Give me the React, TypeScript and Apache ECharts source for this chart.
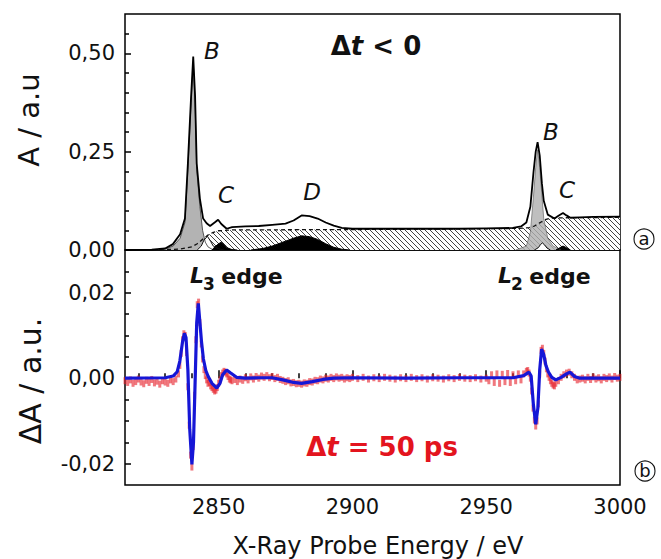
import React, { useEffect, useRef } from 'react';
import * as echarts from 'echarts';

// ---------- Top panel (A / a.u.) ----------
const totalX = [2815, 2825, 2830, 2832.9, 2835.6, 2837.4, 2838.5, 2839.7, 2840.5, 2841.2, 2841.8, 2843, 2844.2, 2845.5, 2846.8, 2848.5, 2849.8, 2851, 2853, 2855, 2860, 2865, 2870, 2875, 2878, 2881, 2884, 2887, 2890, 2893, 2896, 2900, 2910, 2920, 2930, 2940, 2950, 2960, 2963, 2965, 2966.5, 2967.7, 2968.5, 2969.2, 2970, 2970.8, 2971.5, 2973, 2975.5, 2977, 2978.7, 2980, 2981.5, 2985, 2990, 3000];
const totalY = [0, 0.001, 0.004, 0.015, 0.04, 0.08, 0.22, 0.39, 0.492, 0.39, 0.22, 0.13, 0.08, 0.068, 0.061, 0.07, 0.077, 0.066, 0.054, 0.058, 0.06, 0.061, 0.064, 0.067, 0.075, 0.088, 0.086, 0.08, 0.07, 0.062, 0.056, 0.054, 0.054, 0.054, 0.054, 0.054, 0.055, 0.056, 0.06, 0.07, 0.11, 0.2, 0.25, 0.274, 0.24, 0.17, 0.125, 0.09, 0.08, 0.087, 0.094, 0.088, 0.082, 0.083, 0.084, 0.085];

const stepX = [2815, 2835, 2840, 2842, 2844, 2846, 2848, 2850, 2855, 2900, 2950, 2962, 2966, 2968, 2970, 2972, 2974, 2980, 3000];
const stepY = [0, 0.002, 0.008, 0.016, 0.027, 0.038, 0.045, 0.049, 0.051, 0.052, 0.054, 0.055, 0.057, 0.061, 0.069, 0.077, 0.081, 0.082, 0.083];

const greyB1X = [2829, 2833, 2835.6, 2837.4, 2838.5, 2839.7, 2840.5, 2841.2, 2841.8, 2843, 2844, 2845, 2846, 2848];
const greyB1Y = [0, 0.01, 0.03, 0.07, 0.205, 0.375, 0.478, 0.375, 0.205, 0.11, 0.05, 0.02, 0.008, 0];
const greyB2X = [2961, 2965, 2966.5, 2967.7, 2968.5, 2969.2, 2970, 2970.8, 2971.5, 2973, 2975, 2978];
const greyB2Y = [0, 0.01, 0.045, 0.14, 0.21, 0.255, 0.21, 0.14, 0.08, 0.03, 0.01, 0];

const whiteP1X = [2842, 2843.5, 2844.5, 2845.8, 2847, 2848, 2850, 2852];
const whiteP1Y = [0, 0.01, 0.025, 0.035, 0.022, 0.01, 0.003, 0];
const whiteP2X = [2968, 2969.5, 2970.3, 2971, 2971.8, 2972.7, 2974];
const whiteP2Y = [0, 0.006, 0.014, 0.018, 0.013, 0.005, 0];

const blackC1X = [2847.5, 2848.6, 2850, 2851, 2852, 2853, 2855, 2857];
const blackC1Y = [0, 0.008, 0.016, 0.02, 0.014, 0.006, 0.001, 0];
const blackDX = [2862, 2866.6, 2870, 2874, 2878, 2881, 2884, 2887, 2890, 2893, 2896, 2899];
const blackDY = [0, 0.004, 0.01, 0.02, 0.03, 0.036, 0.034, 0.027, 0.016, 0.007, 0.002, 0];
const blackC2X = [2976, 2977.3, 2978.7, 2980, 2981.5];
const blackC2Y = [0, 0.005, 0.01, 0.006, 0];

// ---------- Bottom panel (ΔA / a.u.) ----------
const dataX = [2815, 2816, 2817, 2818, 2819, 2820, 2821, 2822, 2823, 2824, 2825, 2826, 2827, 2828, 2829, 2830, 2831, 2832, 2833, 2834, 2835,
  2835.5, 2836, 2836.5, 2837, 2837.5, 2838, 2838.5, 2839, 2839.5, 2840, 2840.5, 2841, 2841.5, 2842, 2842.5, 2843, 2843.5, 2844, 2844.5, 2845,
  2845.5, 2846, 2846.5, 2847, 2847.5, 2848, 2848.5, 2849, 2849.5, 2850, 2850.5, 2851, 2851.5, 2852, 2852.5, 2853, 2853.5, 2854, 2854.5, 2855,
  2856, 2857, 2858, 2859, 2860, 2861, 2862, 2863, 2864, 2865, 2866, 2867, 2868, 2869, 2870, 2871, 2872, 2873, 2874, 2875, 2876, 2877, 2878, 2879,
  2880, 2881, 2882, 2883, 2884, 2885, 2886, 2887, 2888, 2889, 2890, 2891, 2892, 2893, 2894, 2895, 2896, 2897, 2898, 2899, 2900,
  2902, 2904, 2906, 2908, 2910, 2912, 2914, 2916, 2918, 2920, 2922, 2924, 2926, 2928, 2930, 2932, 2934, 2936, 2938, 2940, 2942, 2944, 2946, 2948, 2950,
  2951, 2952, 2953, 2954, 2955, 2956, 2957, 2958, 2959, 2960, 2961, 2962, 2963, 2964, 2965, 2965.5, 2966, 2966.5, 2967, 2967.5, 2968, 2968.5, 2969,
  2969.5, 2970, 2970.5, 2971, 2971.5, 2972, 2972.5, 2973, 2973.5, 2974, 2974.5, 2975, 2975.5, 2976, 2977, 2978, 2979, 2980, 2981, 2982, 2983, 2984,
  2985, 2986, 2987, 2988, 2989, 2990, 2991, 2992, 2993, 2994, 2995, 2996, 2997, 2998, 2999, 3000];
const dataY = [-0.0006, -0.001, -0.0004, -0.0012, -0.0008, -0.0002, -0.0009, -0.0013, -0.0005, -0.001, -0.0003, -0.0011, -0.0007, -0.0014, -0.0006, -0.0009, -0.0012, -0.0004, -0.0008, -0.0002, 0.001,
  0.003, 0.0058, 0.009, 0.0104, 0.01, 0.006, -0.002, -0.011, -0.018, -0.0208, -0.016, -0.004, 0.009, 0.0172, 0.0178, 0.013, 0.008, 0.0045, 0.002, 0.0006,
  -0.0004, -0.0012, -0.001, -0.0018, -0.0022, -0.0026, -0.003, -0.0028, -0.0022, -0.0012, -0.0004, 0.0006, 0.0012, 0.0016, 0.0014, 0.001, 0.0004, -0.0002, -0.0004, -0.0006,
  -0.0003, -0.0008, -0.0002, -0.0005, 0.0001, -0.0004, 0.0003, -0.0002, 0.0004, 0, 0.0005, 0.0002, 0.0006, 0.0001, 0.0004, -0.0001, 0.0002, -0.0003, -0.0005, -0.0008, -0.0006, -0.0011, -0.001, -0.0013,
  -0.0012, -0.0014, -0.0011, -0.0012, -0.0008, -0.0009, -0.0005, -0.0006, -0.0002, -0.0004, 0, -0.0002, 0.0002, -0.0001, 0.0003, 0, 0.0002, -0.0002, 0.0001, -0.0001, 0.0002,
  -0.0001, 0.0002, -0.0002, 0.0001, -0.0001, 0.0002, 0, -0.0002, 0.0001, -0.0001, 0.0002, -0.0001, 0.0001, -0.0002, 0.0001, 0, -0.0002, 0.0001, -0.0001, 0.0002, 0, -0.0001, 0.0001, -0.0002, 0,
  -0.0006, 0.0008, -0.001, 0.001, -0.0012, 0.0009, -0.0008, 0.0011, -0.001, 0.0008, -0.0006, 0.001, -0.0004, 0.001, 0.0016, 0.0018, 0.0012, 0, -0.003, -0.007, -0.0098, -0.0112, -0.01,
  -0.006, 0.001, 0.0065, 0.007, 0.0058, 0.004, 0.0022, 0.001, 0.0002, -0.0006, -0.0012, -0.0016, -0.0018, -0.0012, -0.0006, 0.0002, 0.0008, 0.0012, 0.0014, 0.0008, 0.0002, -0.0004,
  -0.0002, 0, -0.0004, 0.0002, -0.0003, 0.0003, -0.0002, 0.0001, -0.0004, 0.0002, -0.0001, 0.0003, -0.0002, 0.0004, 0, 0.0002];

const fitX = [2815, 2830, 2833, 2834.5, 2835.5, 2836.5, 2837.2, 2837.8, 2838.5, 2839.2, 2840, 2840.6, 2841.2, 2841.8, 2842.4, 2843, 2843.6, 2844.3, 2845.2, 2846.1, 2847.5, 2849.3, 2850.5, 2851.5, 2853, 2854.5, 2856.7, 2860, 2865, 2870, 2874, 2878, 2881, 2885, 2889, 2893, 2900, 2920, 2940, 2960, 2964, 2966, 2966.8, 2967.6, 2968.5, 2969.3, 2970, 2970.7, 2971.5, 2972.3, 2973.2, 2974.5, 2976, 2978, 2980, 2981.3, 2983, 2985, 3000];
const fitY = [0, 0.0001, 0.0005, 0.0015, 0.004, 0.0085, 0.0105, 0.0095, 0.002, -0.012, -0.0202, -0.015, -0.001, 0.013, 0.0175, 0.013, 0.0085, 0.0045, 0.0018, 0.0004, -0.0012, -0.0023, -0.0012, 0.0008, 0.0019, 0.0012, 0.0002, 0, 0.0001, 0.0001, -0.0004, -0.001, -0.0012, -0.0008, -0.0003, 0, 0.0001, 0, 0.0001, 0.0001, 0.0006, 0.0014, 0.0005, -0.006, -0.0108, -0.007, 0.002, 0.0068, 0.0055, 0.003, 0.0015, 0.0002, -0.0004, 0.0002, 0.001, 0.0014, 0.0004, 0, 0];

// ---------- Axis ticks ----------
const xMajorTicks = [2850, 2900, 2950, 3000];
const xMinorTicks = [2820, 2830, 2840, 2860, 2870, 2880, 2890, 2910, 2920, 2930, 2940, 2960, 2970, 2980, 2990];
const yTopMajor = [0, 0.25, 0.5];
const yTopMinor = [0.05, 0.1, 0.15, 0.2, 0.3, 0.35, 0.4, 0.45, 0.55];
const yBotMajor = [-0.02, 0, 0.02];
const yBotMinor = [-0.015, -0.01, -0.005, 0.005, 0.01, 0.015, 0.025];

const zip = (xs: number[], ys: number[]) => xs.map((x, i) => [x, ys[i]]);
const FONT = 'DejaVu Sans';
const comma = (v: number) => v.toFixed(2).replace('.', ',');

export default function App() {
  const ref = useRef<HTMLDivElement>(null);
  useEffect(() => {
    const chart = echarts.init(ref.current!, null, { renderer: 'svg' });

    const c = document.createElement('canvas');
    c.width = 5; c.height = 5;
    const ctx = c.getContext('2d')!;
    ctx.fillStyle = '#ffffff';
    ctx.fillRect(0, 0, 5, 5);
    ctx.strokeStyle = '#444444';
    ctx.lineWidth = 1;
    ctx.beginPath();
    ctx.moveTo(-1, -1); ctx.lineTo(6, 6);
    ctx.moveTo(-3.5, 1.5); ctx.lineTo(1.5, 6.5);
    ctx.moveTo(1.5, -3.5); ctx.lineTo(6.5, 1.5);
    ctx.stroke();
    const hatch = { image: c, repeat: 'repeat' };

    const peak = (name: string, xs: number[], ys: number[], fill: any, stroke: string, lw: number) => ({
      name, type: 'line', xAxisIndex: 0, yAxisIndex: 0, data: zip(xs, ys), symbol: 'none', showSymbol: false,
      lineStyle: { color: stroke, width: lw }, areaStyle: { color: fill, opacity: 1 }, silent: true,
    });

    const tickAxisX = (gridIndex: number, values: number[], len: number, labels: boolean) => ({
      type: 'value', gridIndex, min: 2815, max: 3000, position: 'bottom',
      axisLine: { show: false }, splitLine: { show: false },
      axisTick: { show: true, inside: true, length: len, customValues: values, lineStyle: { color: '#000', width: 1.5 } },
      axisLabel: labels
        ? { show: true, customValues: values, fontFamily: FONT, fontSize: 21, color: '#111', margin: 11, formatter: (v: number) => String(Math.round(v)) }
        : { show: false },
    });
    const tickAxisY = (gridIndex: number, min: number, max: number, values: number[], len: number, labels: boolean) => ({
      type: 'value', gridIndex, min, max, position: 'left',
      axisLine: { show: false }, splitLine: { show: false },
      axisTick: { show: true, inside: true, length: len, customValues: values, lineStyle: { color: '#000', width: 1.5 } },
      axisLabel: labels
        ? { show: true, customValues: values, fontFamily: FONT, fontSize: 21, color: '#111', margin: 10, formatter: (v: number) => comma(v) }
        : { show: false },
    });

    const txt = (text: string, x: number, y: number, size: number, extra: any = {}) => ({
      type: 'text', x, y, silent: true,
      style: { text, fontFamily: FONT, fontSize: size, fill: '#111', align: 'center', verticalAlign: 'middle', ...extra },
    });

    chart.setOption({
      animation: false,
      backgroundColor: '#ffffff',
      grid: [
        { left: 125, width: 495, top: 14, height: 236, show: true, borderColor: '#000', borderWidth: 1.5, backgroundColor: 'transparent' },
        { left: 125, width: 495, top: 250, height: 235, show: true, borderColor: '#000', borderWidth: 1.5, backgroundColor: 'transparent' },
      ],
      xAxis: [
        { type: 'value', gridIndex: 0, min: 2815, max: 3000, show: false, splitLine: { show: false } },
        tickAxisX(1, xMajorTicks, 8, true),
        tickAxisX(1, xMinorTicks, 5, false),
      ],
      yAxis: [
        tickAxisY(0, 0, 0.6, yTopMajor, 6, true),
        tickAxisY(0, 0, 0.6, yTopMinor, 4, false),
        tickAxisY(1, -0.025, 0.03, yBotMajor, 6, true),
        tickAxisY(1, -0.025, 0.03, yBotMinor, 4, false),
      ],
      series: [
        {
          name: 'step', type: 'line', xAxisIndex: 0, yAxisIndex: 0, data: zip(stepX, stepY), symbol: 'none',
          lineStyle: { color: '#111', width: 1.3, type: [4, 3] }, areaStyle: { color: hatch, opacity: 1 }, silent: true,
        },
        peak('greyB1', greyB1X, greyB1Y, '#b3b3b3', '#333', 0.8),
        peak('greyB2', greyB2X, greyB2Y, 'rgba(175,175,175,0.8)', '#555', 0.6),
        peak('whiteP1', whiteP1X, whiteP1Y, '#ffffff', '#111', 1),
        peak('whiteP2', whiteP2X, whiteP2Y, '#ffffff', '#111', 1),
        peak('blackC1', blackC1X, blackC1Y, '#000000', '#000', 1),
        peak('blackD', blackDX, blackDY, '#000000', '#000', 1),
        peak('blackC2', blackC2X, blackC2Y, '#000000', '#000', 1),
        {
          name: 'total', type: 'line', xAxisIndex: 0, yAxisIndex: 0, data: zip(totalX, totalY), symbol: 'none',
          lineStyle: { color: '#000', width: 1.8 }, silent: true,
        },
        {
          name: 'data', type: 'scatter', xAxisIndex: 1, yAxisIndex: 2, data: zip(dataX, dataY),
          symbol: 'rect', symbolSize: [3, 7], itemStyle: { color: 'rgba(230,30,40,0.75)' }, silent: true,
        },
        {
          name: 'fit', type: 'line', xAxisIndex: 1, yAxisIndex: 2, data: zip(fitX, fitY), symbol: 'none',
          lineStyle: { color: '#1616d6', width: 3.2 }, silent: true,
        },
      ],
      graphic: [
        { ...txt('A / a.u', 29, 120, 29), rotation: Math.PI / 2 },
        { ...txt('ΔA / a.u.', 30, 381, 30), rotation: Math.PI / 2 },
        txt('X-Ray Probe Energy / eV', 378, 546, 24),
        txt('B', 212, 51, 23, { fontStyle: 'italic' }),
        txt('C', 226, 195, 23, { fontStyle: 'italic' }),
        txt('D', 312, 192, 23, { fontStyle: 'italic' }),
        txt('B', 551, 132, 23, { fontStyle: 'italic' }),
        txt('C', 567, 190, 23, { fontStyle: 'italic' }),
        {
          type: 'text', x: 376, y: 46, silent: true,
          style: {
            text: '{d|Δ}{t|t}{r| < 0}', align: 'center', verticalAlign: 'middle',
            rich: {
              d: { fontFamily: FONT, fontSize: 26, fontWeight: 'bold', fill: '#111' },
              t: { fontFamily: FONT, fontSize: 26, fontWeight: 'bold', fontStyle: 'italic', fill: '#111' },
              r: { fontFamily: FONT, fontSize: 26, fontWeight: 'bold', fill: '#111' },
            },
          },
        },
        {
          type: 'text', x: 382, y: 447, silent: true,
          style: {
            text: '{d|Δ}{t|t}{r| = 50 ps}', align: 'center', verticalAlign: 'middle',
            rich: {
              d: { fontFamily: FONT, fontSize: 26, fontWeight: 'bold', fill: '#e3141e' },
              t: { fontFamily: FONT, fontSize: 26, fontWeight: 'bold', fontStyle: 'italic', fill: '#e3141e' },
              r: { fontFamily: FONT, fontSize: 26, fontWeight: 'bold', fill: '#e3141e' },
            },
          },
        },
        txt('L', 197, 275, 22, { fontWeight: 'bold', fontStyle: 'italic' }),
        txt('3', 209, 284, 17, { fontWeight: 'bold' }),
        txt('edge', 252, 276, 22, { fontWeight: 'bold' }),
        txt('L', 505, 275, 22, { fontWeight: 'bold', fontStyle: 'italic' }),
        txt('2', 517, 284, 17, { fontWeight: 'bold' }),
        txt('edge', 560, 276, 22, { fontWeight: 'bold' }),
        { type: 'circle', shape: { cx: 644, cy: 239, r: 10 }, style: { fill: 'none', stroke: '#111', lineWidth: 1.1 }, silent: true },
        txt('a', 644, 238, 18),
        { type: 'circle', shape: { cx: 645, cy: 471, r: 10 }, style: { fill: 'none', stroke: '#111', lineWidth: 1.1 }, silent: true },
        txt('b', 645, 470, 18),
      ],
    });
    return () => chart.dispose();
  }, []);
  return <div ref={ref} style={{ position: 'absolute', left: 0, top: 0, width: 661, height: 559 }} />;
}
